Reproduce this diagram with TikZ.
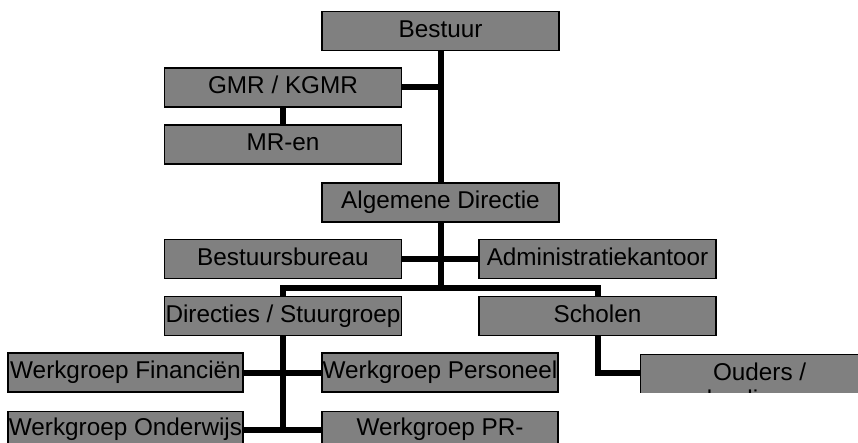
\documentclass[tikz,border=0pt]{standalone}
\usepackage{fontspec}
\setmainfont{Liberation Sans}
\definecolor{boxgray}{RGB}{128,128,128}
\begin{document}
\begin{tikzpicture}[x=1pt,y=-1pt,
  box/.style={draw=black, line width=1.2pt, fill=boxgray, inner sep=0pt,
    minimum width=237pt, minimum height=39pt, text height=17.6pt, text depth=5pt,
    font=\fontsize{24.3}{27}\selectfont},
  tallbox/.style={draw=black, line width=1.2pt, fill=boxgray, inner sep=0pt,
    minimum width=237pt, text height=24pt, text depth=42pt,
    font=\fontsize{24.3}{27}\selectfont},
  twobox/.style={draw=black, line width=1.2pt, fill=boxgray, inner sep=0pt,
    minimum width=238pt, minimum height=66pt, align=center,
    font=\fontsize{24.3}{27}\selectfont},
  link/.style={draw=black, line width=6pt}]
\clip (0,0) rectangle (858,443);
\fill[white] (0,0) rectangle (858,443);

% connectors
\coordinate (bus) at (440.5,288);
\coordinate (wb) at (283,430);

% nodes
\node[box] (best) at (440.5,31) {Bestuur};
\node[box] (gmr) at (283,87.5) {GMR / KGMR};
\node[box] (mr) at (283,144.5) {MR-en};
\node[box] (alg) at (440.5,202.5) {Algemene Directie};
\node[box] (bb) at (283,259) {Bestuursbureau};
\node[box] (adm) at (597.5,259) {Administratiekantoor};
\node[box] (dir) at (283,316) {Directies / Stuurgroep};
\node[box] (sch) at (597.5,316) {Scholen};
\node[box, minimum width=235pt] (fin) at (125.5,372.5) {Werkgroep Financiën};
\node[box, minimum width=236pt] (pers) at (440,372.5) {Werkgroep Personeel};
\node[tallbox, minimum width=235pt, anchor=north] (ond) at (125.5,411) {Werkgroep Onderwijs};
\node[tallbox, minimum width=236pt, anchor=north] (pr) at (440,411) {Werkgroep PR-};
\begin{scope}
  \clip (630,345) rectangle (858,392);
  \node[twobox, anchor=north west] (oud) at (640,354) {Ouders /\\leerlingen};
\end{scope}

\begin{scope}[link]
  \draw (best.south) -- (alg.north);
  \draw (gmr.east) -- (gmr.east -| best.south);
  \draw (gmr.south) -- (mr.north);
  \draw (bb.east) -- (bb.east -| alg.south);
  \draw (adm.west) -- (adm.west -| alg.south);
  \draw (alg.south) -- (bus);
  \draw (dir.north) |- (bus) -| (sch.north);
  \draw (dir.south) -- (wb);
  \draw (fin.east) -- (pers.west);
  \draw (ond.north east |- wb) -- (pr.north west |- wb);
  \draw (sch.south) |- ([yshift=-19pt]oud.north west);
\end{scope}
\end{tikzpicture}
\end{document}
